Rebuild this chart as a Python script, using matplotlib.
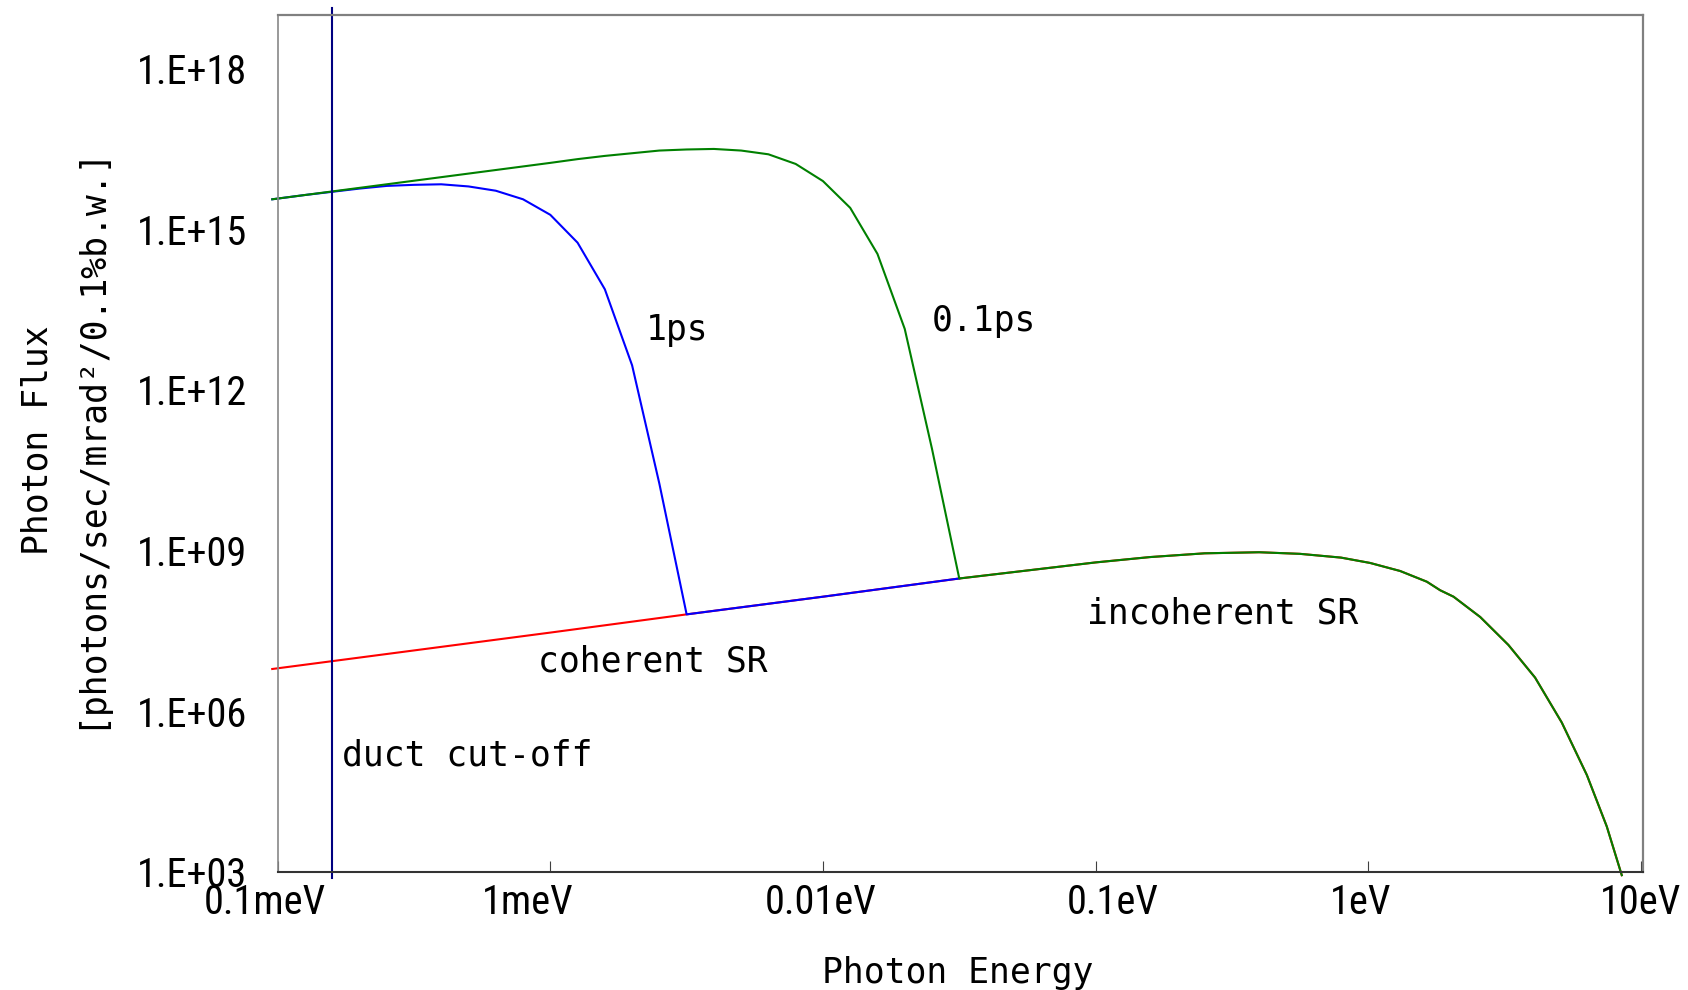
import numpy as np
import matplotlib.pyplot as plt
import matplotlib.transforms as mtransforms
from matplotlib import font_manager

# 数据: log10(光子能量 [eV]) 和 log10(光子通量)
incoh_logE = [-4.02, -3.0, -2.5, -2.0, -1.5, -1.0, -0.8, -0.6, -0.4, -0.25, -0.1,
              0.007, 0.117, 0.215, 0.264, 0.313, 0.411, 0.514, 0.612, 0.710, 0.802, 0.875, 0.930]
incoh_logF = [6.79, 7.47, 7.81, 8.14, 8.48, 8.78, 8.88, 8.95, 8.97, 8.94, 8.87,
              8.77, 8.62, 8.42, 8.26, 8.14, 7.76, 7.24, 6.63, 5.79, 4.81, 3.85, 2.94]

# 0.1ps (coherent part, joins incoherent at -1.5)
ps01_logE = [-4.02, -3.0, -2.9, -2.8, -2.7, -2.6, -2.5, -2.4, -2.3, -2.2, -2.1,
             -2.0, -1.9, -1.8, -1.7, -1.6, -1.5]
ps01_logF = [15.56, 16.24, 16.31, 16.37, 16.42, 16.47, 16.49, 16.50, 16.47, 16.40, 16.22,
             15.90, 15.40, 14.54, 13.14, 10.9, 8.48]

# 1ps (coherent part, joins incoherent at -2.5)
ps1_logE = [-4.02, -3.9, -3.8, -3.7, -3.6, -3.5, -3.4, -3.3, -3.2, -3.1, -3.0,
            -2.9, -2.8, -2.7, -2.6, -2.5]
ps1_logF = [15.56, 15.64, 15.70, 15.76, 15.81, 15.83, 15.84, 15.80, 15.72, 15.56, 15.27,
            14.75, 13.88, 12.46, 10.25, 7.81]

duct_cutoff = 1.58e-4  # eV

xticks = [1e-4, 1e-3, 1e-2, 1e-1, 1, 10]
xticklabels = ['0.1meV', '1meV', '0.01eV', '0.1eV', '1eV', '10eV']
yticks = [1e3, 1e6, 1e9, 1e12, 1e15, 1e18]
yticklabels = ['1.E+03', '1.E+06', '1.E+09', '1.E+12', '1.E+15', '1.E+18']


# 找一个窄体字体给刻度标签用
def pick_tick_font():
    fl = font_manager.fontManager.ttflist
    for want in ['Liberation Sans Narrow', 'Roboto Condensed']:
        for f in fl:
            if f.name == want and f.style == 'normal' and f.weight in (400, 'normal', 'regular'):
                return font_manager.FontProperties(fname=f.fname, size=29)
    for f in fl:
        if f.name == 'DejaVu Sans' and f.stretch == 'condensed' and f.style == 'normal' \
                and f.weight in (400, 'normal', 'regular'):
            return font_manager.FontProperties(fname=f.fname, size=25)
    return font_manager.FontProperties(family='Roboto', size=25)


tick_fp = pick_tick_font()
mono = 'DejaVu Sans Mono'

incoh_E = np.power(10.0, incoh_logE)
incoh_F = np.power(10.0, incoh_logF)

# 1ps: coherent part + incoherent up to the 0.1ps junction
ps1_E = np.power(10.0, ps1_logE + [e for e in incoh_logE if -2.5 < e <= -1.5])
ps1_F = np.power(10.0, ps1_logF + [f for e, f in zip(incoh_logE, incoh_logF) if -2.5 < e <= -1.5])

# 0.1ps: coherent part + incoherent tail
ps01_E = np.power(10.0, ps01_logE + [e for e in incoh_logE if e > -1.5])
ps01_F = np.power(10.0, ps01_logF + [f for e, f in zip(incoh_logE, incoh_logF) if e > -1.5])

fig = plt.figure(figsize=(16.88, 9.9), dpi=100)
ax = fig.add_axes([0.1645, 0.1192, 0.8087, 0.8656])

lw = 1.5
ax.plot(incoh_E, incoh_F, color='#ff0000', lw=lw, clip_on=False)
ax.plot(ps1_E, ps1_F, color='#0000ff', lw=lw, clip_on=False)
ax.plot(ps01_E, ps01_F, color='#008000', lw=lw, clip_on=False)
ax.axvline(duct_cutoff, ymin=-0.007, ymax=1.008, color='#000080', lw=1.5, clip_on=False)

ax.set_xscale('log')
ax.set_yscale('log')
ax.set_xlim(1e-4, 10 ** 1.007)
ax.set_ylim(1e3, 1e19)

ax.set_xticks(xticks)
ax.set_xticklabels(xticklabels)
ax.set_yticks(yticks)
ax.set_yticklabels(yticklabels)
for lbl in ax.get_xticklabels() + ax.get_yticklabels():
    lbl.set_fontproperties(tick_fp)
ax.minorticks_off()
ax.tick_params(axis='x', direction='in', length=8, width=0.8, color='#404040', pad=8)
ax.tick_params(axis='y', length=0, pad=22)

# x 刻度标签在原图里左右略有偏移 (像素)
x_label_shift = [-13, -23, -2, 17, -8, 0]
for lbl, dx in zip(ax.get_xticklabels(), x_label_shift):
    lbl.set_transform(lbl.get_transform() + mtransforms.ScaledTranslation(dx / 100, 0, fig.dpi_scale_trans))

for side in ['top', 'right']:
    ax.spines[side].set_color('#808080')
    ax.spines[side].set_linewidth(1.6)
ax.spines['left'].set_color('#888888')
ax.spines['left'].set_linewidth(1.2)
ax.spines['bottom'].set_color('#333333')
ax.spines['bottom'].set_linewidth(1.5)

ax.text(646 / 1688, 1 - 330 / 990, '1ps', transform=fig.transFigure, family=mono, fontsize=25, va='center')
ax.text(932 / 1688, 1 - 321 / 990, '0.1ps', transform=fig.transFigure, family=mono, fontsize=25, va='center')
ax.text(538 / 1688, 1 - 661 / 990, 'coherent SR', transform=fig.transFigure, family=mono, fontsize=25, va='center')
ax.text(1087 / 1688, 1 - 614 / 990, 'incoherent SR', transform=fig.transFigure, family=mono, fontsize=25, va='center')
ax.text(342 / 1688, 1 - 756 / 990, 'duct cut-off', transform=fig.transFigure, family=mono, fontsize=25, va='center')

fig.text(958 / 1688, 1 - 973 / 990, 'Photon Energy', family=mono, fontsize=25, ha='center', va='center')
fig.text(38 / 1688, 1 - 440 / 990, 'Photon Flux', family=mono, fontsize=25, ha='center', va='center', rotation=90)
fig.text(89 / 1688, 1 - 437 / 990, '[photons/sec/mrad²/0.1%b.w.]', family=mono, fontsize=25,
         ha='center', va='center', rotation=90)

fig.savefig('out.png', dpi=100)
